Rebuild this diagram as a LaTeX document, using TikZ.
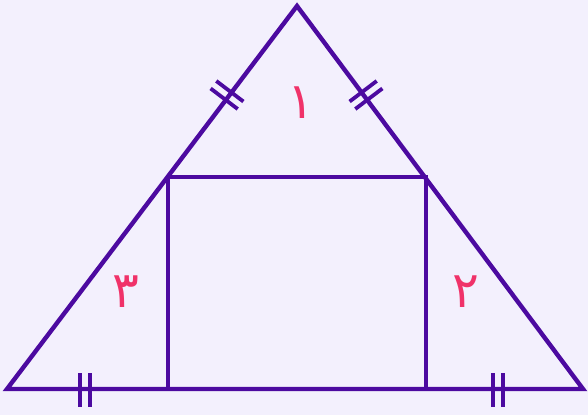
\documentclass[tikz,border=0pt]{standalone}
\usepackage{fontspec}
\newfontfamily\arabicfont[Script=Arabic]{DejaVu Sans}
\definecolor{bgc}{RGB}{243,240,253}
\definecolor{linec}{RGB}{76,10,160}
\definecolor{labc}{RGB}{240,50,105}
\tikzset{
  edge/.style={draw=linec, line width=4.4pt, line join=miter},
  tick/.style={draw=linec, line width=3.8pt},
  lab/.style={text=labc, font=\arabicfont\fontsize{50}{52}\selectfont, inner sep=0pt}
}
\begin{document}
\begin{tikzpicture}[x=1pt,y=-1pt]
\fill[bgc] (0,0) rectangle (588,415);
\useasboundingbox (0,0) rectangle (588,415);
\coordinate (A) at (297,6);
\coordinate (B) at (7,389);
\coordinate (C) at (583,389);
\coordinate (P) at (168,177);
\coordinate (Q) at (426,177);
\coordinate (R) at (426,389);
\coordinate (S) at (168,389);
\draw[edge] (A) -- (B) -- (C) -- cycle;
\draw[edge] (P) -- (Q) -- (R);
\draw[edge] (P) -- (S);
% ticks on upper sides
\begin{scope}[shift={(227,95)}, rotate=52.8]
  \draw[tick] (-4.7,-17) -- (-4.7,17);
  \draw[tick] (4.7,-17) -- (4.7,17);
\end{scope}
\begin{scope}[shift={(366,95)}, rotate=-52.8]
  \draw[tick] (-4.7,-17) -- (-4.7,17);
  \draw[tick] (4.7,-17) -- (4.7,17);
\end{scope}
% ticks on bottom
\foreach \x in {85,498}{
  \draw[tick] (\x-4.7,373) -- (\x-4.7,407);
  \draw[tick] (\x+4.7,373) -- (\x+4.7,407);
}
\node[lab] (l1) at (301,103) {١};
\node[lab] (l2) at (466,292) {٢};
\node[lab] (l3) at (126,292) {٣};
\end{tikzpicture}
\end{document}
